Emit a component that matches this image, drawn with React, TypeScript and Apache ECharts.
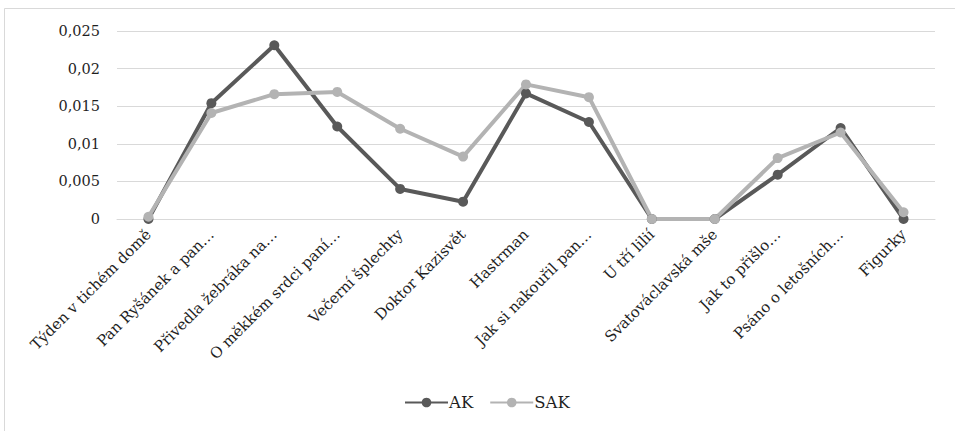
import React, { useEffect, useRef } from "react";
import * as echarts from "echarts";

const categories = [
  "Týden v tichém domě",
  "Pan Ryšánek a pan…",
  "Přivedla žebráka na…",
  "O měkkém srdci paní…",
  "Večerní šplechty",
  "Doktor Kazisvět",
  "Hastrman",
  "Jak si nakouřil pan…",
  "U tří lilií",
  "Svatováclavská mše",
  "Jak to přišlo…",
  "Psáno o letošních…",
  "Figurky",
];

const akValues = [0.0, 0.0154, 0.0231, 0.0123, 0.004, 0.0023, 0.0167, 0.0129, 0.0, 0.0, 0.0059, 0.0121, 0.0];
const sakValues = [0.0003, 0.0141, 0.0166, 0.0169, 0.0120, 0.0083, 0.0179, 0.0162, 0.0, 0.0, 0.0081, 0.0115, 0.0009];

const yTicks = { min: 0, max: 0.025, interval: 0.005 };

const FONT = "DejaVu Serif";

export default function App() {
  const ref = useRef<HTMLDivElement>(null);
  useEffect(() => {
    if (!ref.current) return;
    const chart = echarts.init(ref.current, undefined, { renderer: "svg" });
    chart.setOption({
      animation: false,
      backgroundColor: "#ffffff",
      textStyle: { fontFamily: FONT },
      graphic: [
        {
          type: "rect",
          shape: { x: 4.5, y: 8.5, width: 970, height: 440 },
          style: { fill: "none", stroke: "#d9d9d9", lineWidth: 1 },
          silent: true,
        },
      ],
      grid: { left: 117, right: 20, top: 31, bottom: 212, containLabel: false },
      legend: {
        bottom: 15,
        left: 399,
        itemWidth: 43,
        itemHeight: 12,
        itemGap: 16,
        textStyle: { fontFamily: FONT, fontSize: 16.5, color: "#1f1f1f", padding: [0, 0, 0, -4] },
        data: ["AK", "SAK"],
      },
      xAxis: {
        type: "category",
        data: categories,
        boundaryGap: true,
        axisLine: { show: true, lineStyle: { color: "#d9d9d9", width: 1 } },
        axisTick: { show: false },
        axisLabel: {
          rotate: 45,
          interval: 0,
          margin: 13,
          fontFamily: FONT,
          fontSize: 15,
          color: "#1f1f1f",
        },
      },
      yAxis: {
        type: "value",
        min: yTicks.min,
        max: yTicks.max,
        interval: yTicks.interval,
        axisLine: { show: false },
        axisTick: { show: false },
        splitLine: { lineStyle: { color: "#d9d9d9", width: 1 } },
        axisLabel: {
          margin: 17,
          fontFamily: FONT,
          fontSize: 14.5,
          color: "#1f1f1f",
          formatter: (v: number) => (v === 0 ? "0" : String(parseFloat(v.toFixed(4))).replace(".", ",")),
        },
      },
      series: [
        {
          name: "AK",
          type: "line",
          data: akValues,
          symbol: "circle",
          symbolSize: 10,
          lineStyle: { color: "#595959", width: 4 },
          itemStyle: { color: "#595959" },
        },
        {
          name: "SAK",
          type: "line",
          data: sakValues,
          symbol: "circle",
          symbolSize: 10,
          lineStyle: { color: "#b3b3b3", width: 4 },
          itemStyle: { color: "#b3b3b3" },
        },
      ],
    });
    return () => chart.dispose();
  }, []);
  return (
    <div
      ref={ref}
      style={{ position: "absolute", left: 0, top: 0, width: 955, height: 431 }}
    />
  );
}
